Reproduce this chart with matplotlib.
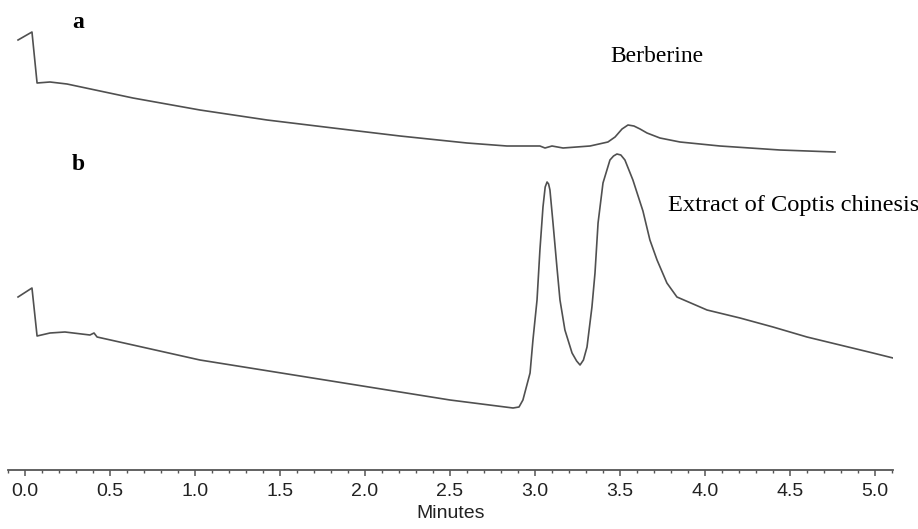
import numpy as np
import matplotlib.pyplot as plt

# trace a: Berberine standard (time in minutes, signal in arbitrary units)
t_a = [-0.041, 0.041, 0.071, 0.147, 0.247, 0.635, 1.029, 1.424, 1.812, 2.206,
       2.6, 2.835, 3.029, 3.059, 3.1, 3.165, 3.324, 3.429, 3.471, 3.512, 3.547,
       3.582, 3.618, 3.659, 3.735, 3.853, 4.088, 4.441, 4.765]
y_a = [430, 438, 387, 388, 386, 372, 360, 350, 342, 334,
       327, 324, 324, 322, 324, 322, 324, 328, 333, 341, 345,
       344, 341, 337, 332, 328, 324, 320, 318]

# trace b: Extract of Coptis chinesis
t_b = [-0.041, 0.041, 0.071, 0.147, 0.235, 0.382, 0.406, 0.424, 0.635, 1.029,
       1.618, 2.206, 2.5, 2.871, 2.906, 2.929, 2.971, 2.988, 3.012, 3.029,
       3.047, 3.06, 3.071, 3.08, 3.088, 3.106, 3.129, 3.147, 3.176, 3.218,
       3.245, 3.265, 3.285, 3.306, 3.335, 3.353, 3.371, 3.4, 3.441, 3.462,
       3.482, 3.505, 3.529, 3.576, 3.635, 3.676, 3.718, 3.776, 3.835, 4.012,
       4.206, 4.4, 4.6, 4.794, 4.988, 5.106]
y_b = [173, 182, 134, 137, 138, 135, 137, 133, 125, 110,
       94, 78, 70, 62, 63, 70, 97, 130, 170, 220,
       263, 283, 288, 286, 280, 247, 203, 170, 140, 117,
       109, 105, 110, 123, 163, 197, 247, 287, 310, 314,
       316, 315, 310, 290, 259, 230, 210, 187, 173, 160,
       152, 143, 133, 125, 117, 112]

fig = plt.figure(figsize=(9.18, 5.29), dpi=100)
ax = fig.add_axes([8/918, 59/529, 885/918, 470/529])

col = "#505050"
ax.plot(t_a, y_a, color=col, lw=1.2)
ax.plot(t_b, y_b, color=col, lw=1.2)

ax.set_xlim(-0.1, 5.106)
ax.set_ylim(0, 470)

for s in ["top", "left", "right"]:
    ax.spines[s].set_visible(False)
ax.spines["bottom"].set_color("#555555")
ax.spines["bottom"].set_linewidth(1.3)
ax.set_yticks([])
ax.set_xticks(np.arange(0, 5.01, 0.5))
ax.set_xticks(np.arange(-0.1, 5.11, 0.1), minor=True)
ax.tick_params(axis="x", which="major", length=4, width=1.1, color="#555555",
               labelsize=14, pad=5)
ax.tick_params(axis="x", which="minor", length=2.5, width=1.0, color="#555555")
for lab in ax.get_xticklabels():
    lab.set_fontfamily("Liberation Sans")
    lab.set_color("#222222")
ax.set_xlabel("Minutes", fontsize=14, family="Liberation Sans", color="#222222",
              labelpad=4)

serif = "Liberation Serif"
ax.text(0.276, 448, "a", fontsize=17, fontweight="bold", family=serif, va="center")
ax.text(0.276, 306, "b", fontsize=17, fontweight="bold", family=serif, va="center")
ax.text(3.441, 414, "Berberine", fontsize=17, family=serif, va="center", ha="left")
ax.text(3.782, 264, "Extract of Coptis chinesis", fontsize=17.6, family=serif,
        va="center", ha="left", clip_on=False)

fig.savefig("out.png", dpi=100)
